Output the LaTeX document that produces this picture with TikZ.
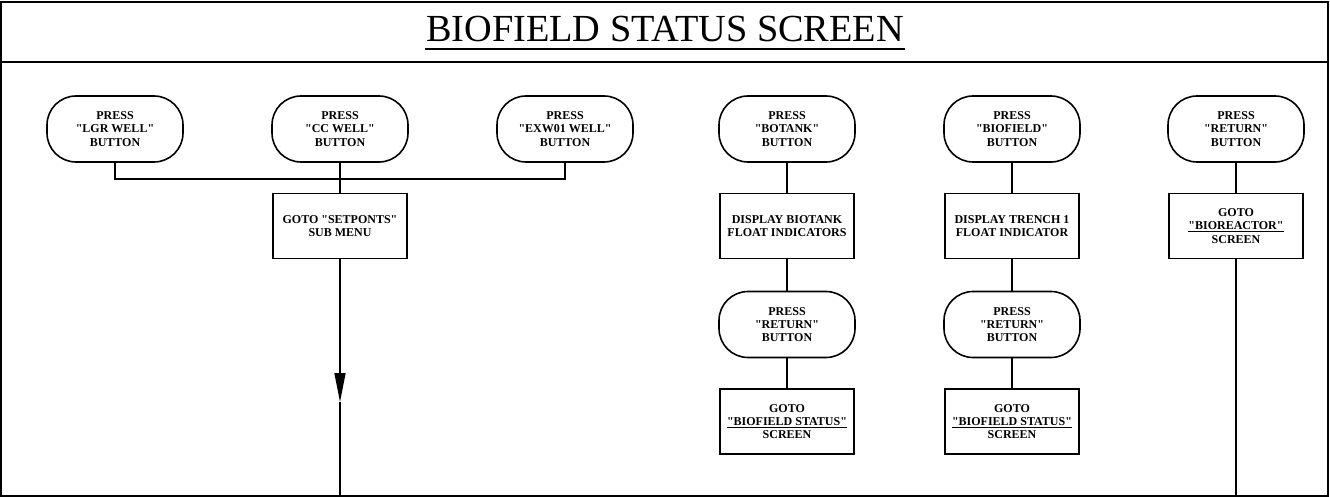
\documentclass[tikz,border=0pt]{standalone}
\usepackage{fontspec}
\setmainfont{Liberation Serif}
\usetikzlibrary{arrows.meta}
% straight double quote, bypassing the TeX quote mapping
\newcommand{\dq}{\XeTeXglyph\XeTeXcharglyph"22\relax}
\begin{document}
\begin{tikzpicture}[x=1pt,y=-1pt,
  every node/.style={font=\bfseries\fontsize{12}{13.3}\selectfont, align=center, line width=1.6pt},
  term/.style={draw, rectangle, rounded corners=29pt, minimum width=136pt, minimum height=66pt, inner sep=0pt},
  proc/.style={draw, rectangle, minimum width=134pt, minimum height=65pt, inner sep=0pt},
  link/.style={line width=1.6pt}]
\useasboundingbox (0,0) rectangle (1330,497);
% frame and title band
\draw[line width=2pt] (1,2) rectangle (1328,495.5);
\draw[line width=1.6pt] (1,62) -- (1328,62);
\node[font=\fontsize{38.3}{40}\selectfont, inner sep=0pt, anchor=base] (title) at (665,42) {BIOFIELD STATUS SCREEN};
\draw[line width=2.2pt] ([yshift=-7pt]title.base west) -- ([yshift=-7pt]title.base east);

% well buttons and set points
\node[term] (lgr) at (115,129) {PRESS\\\dq LGR WELL\dq\\BUTTON};
\node[term] (cc) at (340,129) {PRESS\\\dq CC WELL\dq\\BUTTON};
\node[term] (exw) at (565,129) {PRESS\\\dq EXW01 WELL\dq\\BUTTON};
\node[proc] (setp) at (340,226) {GOTO \dq SETPONTS\dq\\SUB MENU};
\coordinate (join) at (340,179);
\coordinate (tip) at (340,402);
\coordinate (setpend) at (340,495.5);

% biotank column
\node[term] (botank) at (787,129) {PRESS\\\dq BOTANK\dq\\BUTTON};
\node[proc] (dispbt) at (787,226) {DISPLAY BIOTANK\\FLOAT INDICATORS};
\node[term] (ret1) at (787,324.5) {PRESS\\\dq RETURN\dq\\BUTTON};
\node[proc] (goto1) at (787,421.5) {GOTO\\\underline{\dq BIOFIELD STATUS\dq}\\SCREEN};

% biofield column
\node[term] (biof) at (1012,129) {PRESS\\\dq BIOFIELD\dq\\BUTTON};
\node[proc] (disptr) at (1012,226) {DISPLAY TRENCH 1\\FLOAT INDICATOR};
\node[term] (ret2) at (1012,324.5) {PRESS\\\dq RETURN\dq\\BUTTON};
\node[proc] (goto2) at (1012,421.5) {GOTO\\\underline{\dq BIOFIELD STATUS\dq}\\SCREEN};

% return column
\node[term] (ret3) at (1236,129) {PRESS\\\dq RETURN\dq\\BUTTON};
\node[proc] (goto3) at (1236,226) {GOTO\\\underline{\dq BIOREACTOR\dq}\\SCREEN};
\coordinate (ret3end) at (1236,495.5);

% connectors
\draw[link] (lgr.south) -- (lgr.south |- join) -- (exw.south |- join) -- (exw.south);
\draw[link] (cc.south) -- (setp.north);
\draw[link, -{Triangle[length=29pt,width=11pt]}] (setp.south) -- (tip);
\draw[link] (tip) -- (setpend);
\draw[link] (botank) -- (dispbt) -- (ret1) -- (goto1);
\draw[link] (biof) -- (disptr) -- (ret2) -- (goto2);
\draw[link] (ret3) -- (goto3) -- (ret3end);
\end{tikzpicture}
\end{document}
